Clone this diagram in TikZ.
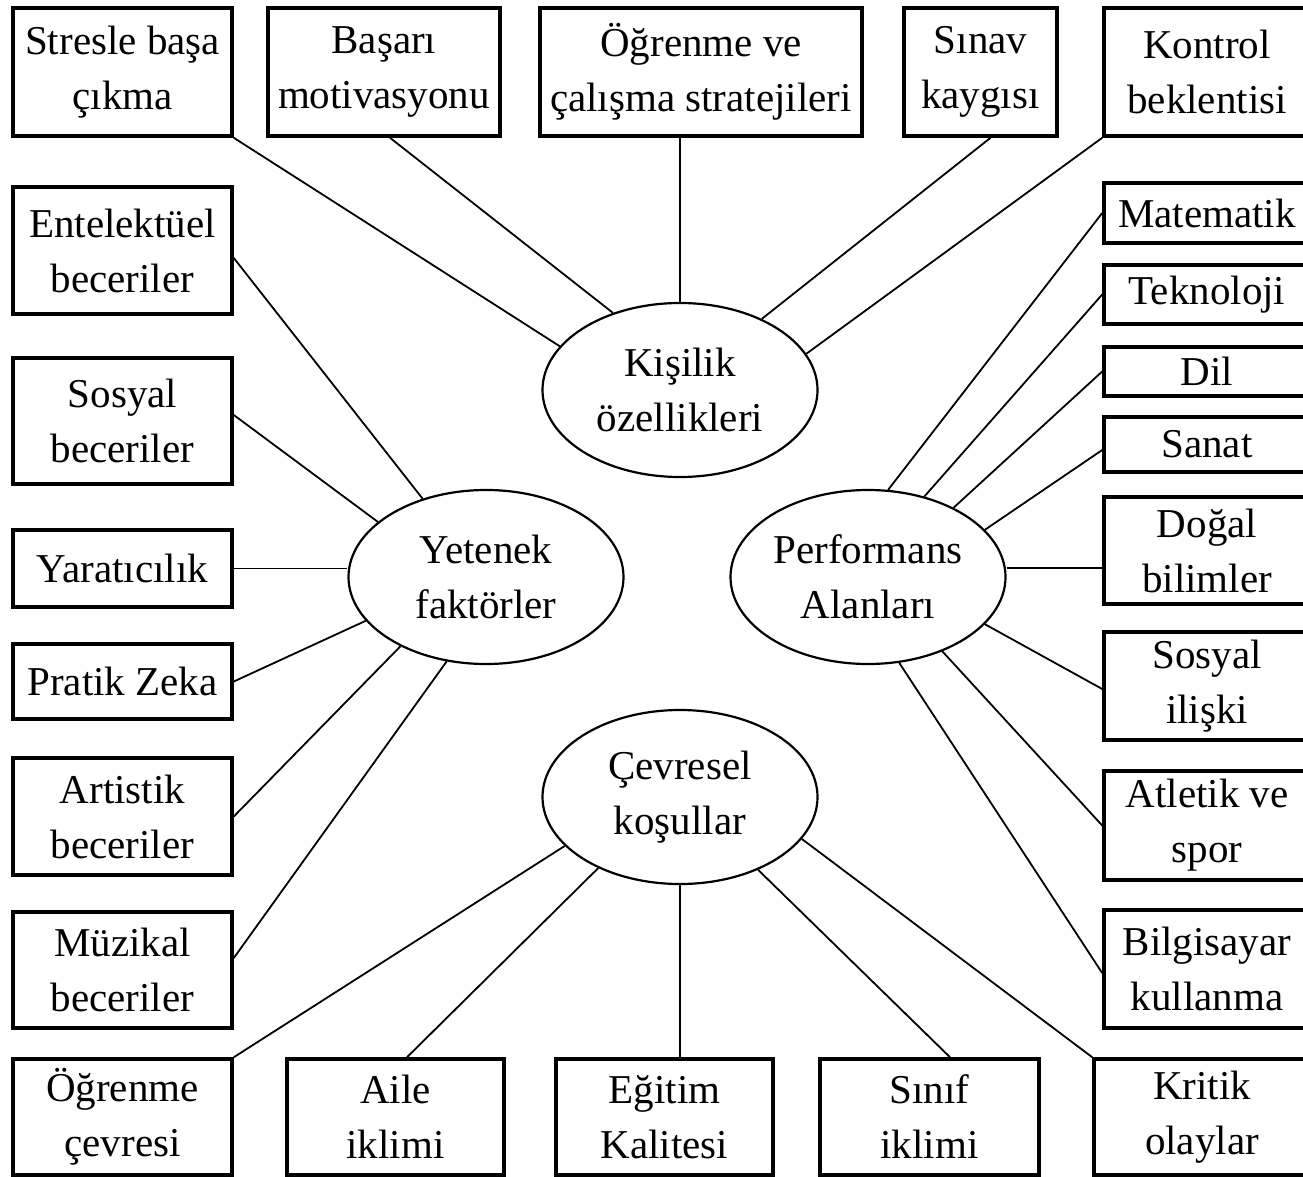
\documentclass[tikz,border=0pt]{standalone}
\usepackage{fontspec}
\setmainfont{Liberation Serif}
\usetikzlibrary{shapes.geometric}
\begin{document}
\begin{tikzpicture}[x=1pt,y=-1pt,
  txt/.style={align=center, font=\fontsize{41}{55}\selectfont},
  bx/.style={txt, draw, line width=3.6pt, rectangle, inner sep=0pt},
  el/.style={txt, draw, line width=2.2pt, ellipse, minimum width=275pt, minimum height=174pt, inner sep=0pt},
  cn/.style={line width=1.8pt}]
\useasboundingbox (0,0) rectangle (1303,1177);
% top row
\node[bx, minimum width=219pt, minimum height=128pt] (s1) at (122.5,72) {Stresle başa\\çıkma};
\node[bx, minimum width=232pt, minimum height=128pt] (s2) at (384,72) {Başarı\\motivasyonu};
\node[bx, minimum width=322pt, minimum height=128pt] (s3) at (701,72) {Öğrenme ve\\çalışma stratejileri};
\node[bx, minimum width=153pt, minimum height=128pt] (s4) at (980.5,72) {Sınav\\kaygısı};
\node[bx, minimum width=206pt, minimum height=128pt] (s5) at (1207,72) {Kontrol\\beklentisi};
% left column
\node[bx, minimum width=219pt, minimum height=127pt] (e1) at (122.5,250.5) {Entelektüel\\beceriler};
\node[bx, minimum width=219pt, minimum height=126pt] (e2) at (122.5,421) {Sosyal\\beceriler};
\node[bx, minimum width=219pt, minimum height=77pt] (e3) at (122.5,568.5) {Yaratıcılık};
\node[bx, minimum width=219pt, minimum height=75pt] (e4) at (122.5,681.5) {Pratik Zeka};
\node[bx, minimum width=219pt, minimum height=117pt] (e5) at (122.5,816.5) {Artistik\\beceriler};
\node[bx, minimum width=219pt, minimum height=116pt] (e6) at (122.5,970) {Müzikal\\beceriler};
% right column
\node[bx, minimum width=206pt, minimum height=60pt] (r1) at (1207,213) {Matematik};
\node[bx, minimum width=206pt, minimum height=59pt] (r2) at (1207,294.5) {Teknoloji};
\node[bx, minimum width=206pt, minimum height=49pt] (r3) at (1207,371.5) {Dil};
\node[bx, minimum width=206pt, minimum height=55pt] (r4) at (1207,444.5) {Sanat};
\node[bx, minimum width=206pt, minimum height=107pt] (r5) at (1207,550.5) {Doğal\\bilimler};
\node[bx, minimum width=206pt, minimum height=108pt] (r6) at (1207,686) {Sosyal\\ilişki};
\node[bx, minimum width=206pt, minimum height=109pt] (r7) at (1207,825.5) {Atletik ve\\spor};
\node[bx, minimum width=206pt, minimum height=118pt] (r8) at (1207,969) {Bilgisayar\\kullanma};
% bottom row
\node[bx, minimum width=219pt, minimum height=116pt] (b1) at (122.5,1117) {Öğrenme\\çevresi};
\node[bx, minimum width=217pt, minimum height=116pt] (b2) at (395.5,1117) {Aile\\iklimi};
\node[bx, minimum width=217pt, minimum height=116pt] (b3) at (664.5,1117) {Eğitim\\Kalitesi};
\node[bx, minimum width=219pt, minimum height=116pt] (b4) at (929.5,1117) {Sınıf\\iklimi};
\node[bx, minimum width=216pt, minimum height=116pt] (b5) at (1202,1117) {Kritik\\olaylar};
% ellipses
\node[el] (K) at (680,390) {Kişilik\\özellikleri};
\node[el] (Y) at (486,577) {Yetenek\\faktörler};
\node[el] (P) at (868,577) {Performans\\Alanları};
\node[el] (C) at (680,797) {Çevresel\\koşullar};
% connectors: Kişilik
\draw[cn] (s1.south east) -- (K.160.3);
\draw[cn] ([xshift=6pt]s2.south) -- (K.131);
\draw[cn] (K.north) -- (K.north |- s3.south);
\draw[cn] ([xshift=10pt]s4.south) -- (K.41.7);
\draw[cn] (s5.south west) -- (K.16.8);
% connectors: Yetenek
\draw[cn] ([yshift=-7.5pt]e1.east) -- (Y.129.9);
\draw[cn] ([yshift=6pt]e2.east) -- (Y.153.9);
\draw[cn] (e3.east) -- (e3.east -| Y.west);
\draw[cn] (e4.east) -- (Y.200.7);
\draw[cn] (e5.east) -- (Y.219.2);
\draw[cn] ([yshift=12pt]e6.east) -- (Y.245.6);
% connectors: Performans
\draw[cn] (r1.west) -- (P.77.5);
\draw[cn] (r2.west) -- (P.55.8);
\draw[cn] (r3.west) -- (P.39.5);
\draw[cn] ([yshift=-5.5pt]r4.west) -- (P.22.9);
\draw[cn] ([yshift=-17.5pt]r5.west) -- ([yshift=9pt]P.east);
\draw[cn] ([yshift=-3pt]r6.west) -- (P.338);
\draw[cn] (r7.west) -- (P.315.8);
\draw[cn] ([yshift=-4pt]r8.west) -- (P.290.8);
% connectors: Çevresel
\draw[cn] (b1.north east) -- (C.203.1);
\draw[cn] ([xshift=11.5pt]b2.north) -- (C.221.7);
\draw[cn] (C.south) -- (C.south |- b3.north);
\draw[cn] ([xshift=20.5pt]b4.north) -- (C.317.6);
\draw[cn] (b5.north west) -- (C.341.8);
\end{tikzpicture}
\end{document}
